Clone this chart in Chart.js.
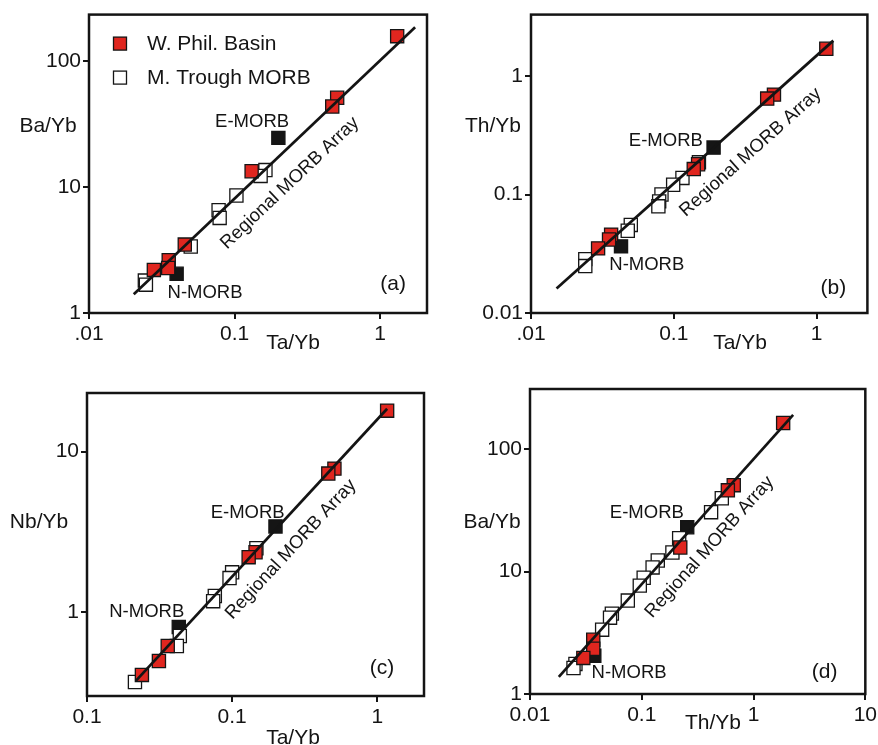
<!DOCTYPE html>
<html><head><meta charset="utf-8">
<script src="https://cdn.jsdelivr.net/npm/chart.js@4.4.1/dist/chart.umd.min.js"></script>
<style>
html,body{margin:0;padding:0;background:#fff;overflow:hidden;}
#wrap{position:relative;width:878px;height:745px;overflow:hidden;}
canvas{position:absolute;}
</style></head><body><div id="wrap">
<canvas id="ca"></canvas><canvas id="cb"></canvas><canvas id="cc"></canvas><canvas id="cd"></canvas>
</div>
<script>
// ---------- Panel (a): Ta/Yb vs Ba/Yb ----------
const aRedX  = [1.31, 0.507, 0.469, 0.131, 0.0455, 0.0353, 0.035, 0.0279];
const aRedY  = [159, 51.5, 43.9, 13.4, 3.5, 2.63, 2.28, 2.2];
const aOpenX = [0.163, 0.151, 0.103, 0.0777, 0.079, 0.05, 0.0242, 0.0246];
const aOpenY = [13.7, 12.3, 8.6, 6.56, 5.7, 3.38, 1.81, 1.68];
const aRefX  = [0.2, 0.040];      // E-MORB, N-MORB
const aRefY  = [24.7, 2.05];
const aLineX = [0.0203, 1.74];    // Regional MORB Array
const aLineY = [1.41, 187];
const aXTicks = [0.01, 0.1, 1];   const aXLabels = ['.01', '0.1', '1'];
const aYTicks = [1, 10, 100];     const aYLabels = ['1', '10', '100'];

// ---------- Panel (b): Ta/Yb vs Th/Yb ----------
const bRedX  = [1.17, 0.503, 0.451, 0.148, 0.138, 0.0364, 0.0352, 0.0295];
const bRedY  = [1.70, 0.697, 0.645, 0.180, 0.164, 0.0458, 0.0417, 0.0351];
const bOpenX = [0.15, 0.115, 0.099, 0.082, 0.079, 0.078, 0.05, 0.0476, 0.024, 0.024];
const bOpenY = [0.187, 0.138, 0.121, 0.1, 0.0875, 0.0795, 0.0554, 0.0495, 0.0285, 0.0249];
const bRefX  = [0.19, 0.0427];
const bRefY  = [0.249, 0.0365];
const bLineX = [0.0151, 1.31];
const bLineY = [0.0161, 1.99];
const bXTicks = [0.01, 0.1, 1];   const bXLabels = ['.01', '0.1', '1'];
const bYTicks = [0.01, 0.1, 1];   const bYLabels = ['0.01', '0.1', '1'];

// ---------- Panel (c): Ta/Yb vs Nb/Yb ----------
const cRedX  = [1.17, 0.507, 0.46, 0.145, 0.13, 0.036, 0.0313, 0.0239];
const cRedY  = [18.0, 7.84, 7.3, 2.36, 2.2, 0.615, 0.496, 0.406];
const cOpenX = [0.147, 0.1, 0.096, 0.076, 0.074, 0.0436, 0.0416, 0.0214];
const cOpenY = [2.5, 1.77, 1.63, 1.26, 1.17, 0.71, 0.615, 0.367];
const cRefX  = [0.199, 0.0429];
const cRefY  = [3.42, 0.807];
const cLineX = [0.0217, 1.17];
const cLineY = [0.373, 18.5];
const cXTicks = [0.01, 0.1, 1];   const cXLabels = ['0.1', '0.1', '1'];
const cYTicks = [1, 10];          const cYLabels = ['1', '10'];

// ---------- Panel (d): Th/Yb vs Ba/Yb ----------
const dRedX  = [1.84, 0.665, 0.589, 0.221, 0.0368, 0.0368, 0.030];
const dRedY  = [163, 50.7, 46, 15.7, 2.77, 2.34, 1.97];
const dOpenX = [0.52, 0.417, 0.216, 0.188, 0.139, 0.125, 0.104, 0.096, 0.075, 0.054, 0.052, 0.0442, 0.0255, 0.0245];
const dOpenY = [39.6, 30.5, 18.7, 14.3, 12.3, 10.8, 8.9, 7.67, 5.79, 4.53, 4.2, 3.35, 1.76, 1.63];
const dRefX  = [0.255, 0.0376];
const dRefY  = [23, 2.05];
const dLineX = [0.0181, 2.26];
const dLineY = [1.38, 190];
const dXTicks = [0.01, 0.1, 1, 10]; const dXLabels = ['0.01', '0.1', '1', '10'];
const dYTicks = [1, 10, 100];       const dYLabels = ['1', '10', '100'];

const RED = '#e0261f', BLK = '#151515', INK = '#141414';
const FONT = '"Liberation Sans", Arial, Helvetica, sans-serif';

function pts(xs, ys) { return xs.map((x, i) => ({ x: x, y: ys[i] })); }

function txt(ctx, s, x, y, size, rot) {
  ctx.save();
  ctx.translate(x, y);
  if (rot) ctx.rotate(rot);
  ctx.font = size + 'px ' + FONT;
  ctx.fillStyle = INK;
  ctx.textAlign = 'center';
  ctx.textBaseline = 'middle';
  ctx.fillText(s, 0, 0);
  ctx.restore();
}

const decor = {
  id: 'decor',
  afterDraw(chart, args, o) {
    const ctx = chart.ctx, ca = chart.chartArea;
    const xs = chart.scales.x, ys = chart.scales.y;
    ctx.save();
    ctx.strokeStyle = INK; ctx.lineWidth = 2.5;
    ctx.strokeRect(ca.left, ca.top, ca.right - ca.left, ca.bottom - ca.top);
    ctx.restore();
    txt(ctx, o.yTitle, o.yTitlePos[0], o.yTitlePos[1], 21);
    txt(ctx, o.xTitle, o.xTitlePos[0], o.xTitlePos[1], 21);
    const lm = chart.getDatasetMeta(0).data;
    const ang = Math.atan2(lm[1].y - lm[0].y, lm[1].x - lm[0].x);
    o.notes.forEach(n => {
      txt(ctx, n.text, xs.getPixelForValue(n.x), ys.getPixelForValue(n.y), n.size, n.along ? ang : 0);
    });
    if (o.legend) {
      o.legend.forEach(it => {
        const ds = chart.data.datasets[it.ds];
        const cx = ca.left + it.dx, cy = ca.top + it.dy, s = 13;
        ctx.save();
        ctx.fillStyle = ds.backgroundColor; ctx.strokeStyle = ds.borderColor; ctx.lineWidth = 1.3;
        ctx.fillRect(cx - s / 2, cy - s / 2, s, s);
        ctx.strokeRect(cx - s / 2, cy - s / 2, s, s);
        ctx.font = '21px ' + FONT; ctx.fillStyle = INK; ctx.textAlign = 'left'; ctx.textBaseline = 'middle';
        ctx.fillText(ds.label, cx + 27, cy + 1);
        ctx.restore();
      });
    }
  }
};

function logAxis(min, max, ticks, labels, fitProp, fitVal, pad) {
  return {
    type: 'logarithmic', min: min, max: max,
    afterBuildTicks: s => { s.ticks = ticks.map(v => ({ value: v })); },
    afterFit: s => { s[fitProp] = fitVal; },
    ticks: {
      autoSkip: false, maxRotation: 0, padding: pad, color: INK,
      font: { family: FONT, size: 21 },
      callback: v => { const i = ticks.findIndex(t => Math.abs(t - v) / t < 1e-6); return i >= 0 ? labels[i] : ''; }
    },
    grid: { display: true, drawOnChartArea: false, drawTicks: true, tickLength: 6, lineWidth: 2, color: INK },
    border: { display: false },
    title: { display: false }
  };
}

function makePanel(p) {
  const cv = document.getElementById(p.id);
  cv.width = p.w; cv.height = p.h;
  cv.style.left = p.left + 'px'; cv.style.top = p.top + 'px';
  cv.style.width = p.w + 'px'; cv.style.height = p.h + 'px';
  const sq = { pointStyle: 'rect', pointRadius: 9.3, pointHoverRadius: 9.3, borderWidth: 1.3, borderColor: BLK };
  new Chart(cv, {
    type: 'scatter',
    data: {
      datasets: [
        { type: 'line', label: 'Regional MORB Array', data: pts(p.lineX, p.lineY), showLine: true, pointRadius: 0,
          borderColor: INK, borderWidth: 2.7, fill: false, order: 0 },
        Object.assign({ label: 'W. Phil. Basin', data: pts(p.redX, p.redY), backgroundColor: RED, order: 1 }, sq),
        Object.assign({ label: 'M. Trough MORB', data: pts(p.openX, p.openY), backgroundColor: '#ffffff', order: 2 }, sq),
        Object.assign({ label: 'E-MORB / N-MORB', data: pts(p.refX, p.refY), backgroundColor: BLK, order: 3 }, sq)
      ]
    },
    options: {
      responsive: false, animation: false, devicePixelRatio: 1,
      layout: { padding: { left: 0, top: p.T, right: p.w - p.R, bottom: 0 } },
      scales: {
        x: logAxis(p.xr[0], p.xr[1], p.xt, p.xl, 'height', p.h - p.B, 3),
        y: logAxis(p.yr[0], p.yr[1], p.yt, p.yl, 'width', p.L, 2)
      },
      plugins: {
        legend: { display: false }, tooltip: { enabled: false },
        decor: p.decor
      }
    },
    plugins: [decor]
  });
}

makePanel({ id: 'ca', left: 0, top: 0, w: 439, h: 360, L: 89, T: 8, R: 427, B: 313,
  xr: [0.01, 2.1], yr: [1, 236], xt: aXTicks, xl: aXLabels, yt: aYTicks, yl: aYLabels,
  redX: aRedX, redY: aRedY, openX: aOpenX, openY: aOpenY, refX: aRefX, refY: aRefY, lineX: aLineX, lineY: aLineY,
  decor: { yTitle: 'Ba/Yb', yTitlePos: [48, 126], xTitle: 'Ta/Yb', xTitlePos: [293, 343],
    notes: [ { text: 'E-MORB', x: 0.132, y: 32.9, size: 18.5 }, { text: 'N-MORB', x: 0.0627, y: 1.457, size: 18.5 },
             { text: 'Regional MORB Array', x: 0.24, y: 10.8, size: 18.5, along: true }, { text: '(a)', x: 1.23, y: 1.68, size: 21 } ],
    legend: [ { ds: 1, dx: 31, dy: 29 }, { ds: 2, dx: 31, dy: 63 } ] } });

makePanel({ id: 'cb', left: 439, top: 0, w: 439, h: 360, L: 92, T: 8, R: 429, B: 313,
  xr: [0.01, 2.27], yr: [0.01, 3.3], xt: bXTicks, xl: bXLabels, yt: bYTicks, yl: bYLabels,
  redX: bRedX, redY: bRedY, openX: bOpenX, openY: bOpenY, refX: bRefX, refY: bRefY, lineX: bLineX, lineY: bLineY,
  decor: { yTitle: 'Th/Yb', yTitlePos: [54, 126], xTitle: 'Ta/Yb', xTitlePos: [301, 343],
    notes: [ { text: 'E-MORB', x: 0.088, y: 0.285, size: 18.5 }, { text: 'N-MORB', x: 0.0647, y: 0.0254, size: 18.5 },
             { text: 'Regional MORB Array', x: 0.345, y: 0.227, size: 18.5, along: true }, { text: '(b)', x: 1.31, y: 0.0161, size: 21 } ] } });

makePanel({ id: 'cc', left: 0, top: 360, w: 439, h: 385, L: 87, T: 33, R: 424, B: 336,
  xr: [0.01, 2.1], yr: [0.305, 23.2], xt: cXTicks, xl: cXLabels, yt: cYTicks, yl: cYLabels,
  redX: cRedX, redY: cRedY, openX: cOpenX, openY: cOpenY, refX: cRefX, refY: cRefY, lineX: cLineX, lineY: cLineY,
  decor: { yTitle: 'Nb/Yb', yTitlePos: [39, 162], xTitle: 'Ta/Yb', xTitlePos: [293, 378],
    notes: [ { text: 'E-MORB', x: 0.128, y: 4.18, size: 18.5 }, { text: 'N-MORB', x: 0.0258, y: 1.01, size: 18.5 },
             { text: 'Regional MORB Array', x: 0.254, y: 2.46, size: 18.5, along: true }, { text: '(c)', x: 1.08, y: 0.449, size: 21 } ] } });

makePanel({ id: 'cd', left: 439, top: 360, w: 441, h: 385, L: 91, T: 29, R: 429, B: 334,
  xr: [0.01, 10], yr: [1, 309], xt: dXTicks, xl: dXLabels, yt: dYTicks, yl: dYLabels,
  redX: dRedX, redY: dRedY, openX: dOpenX, openY: dOpenY, refX: dRefX, refY: dRefY, lineX: dLineX, lineY: dLineY,
  decor: { yTitle: 'Ba/Yb', yTitlePos: [53, 162], xTitle: 'Th/Yb', xTitlePos: [274, 363],
    notes: [ { text: 'E-MORB', x: 0.111, y: 30, size: 18.5 }, { text: 'N-MORB', x: 0.077, y: 1.48, size: 18.5 },
             { text: 'Regional MORB Array', x: 0.404, y: 15.8, size: 18.5, along: true }, { text: '(d)', x: 4.32, y: 1.51, size: 21 } ] } });
</script>
</body></html>
